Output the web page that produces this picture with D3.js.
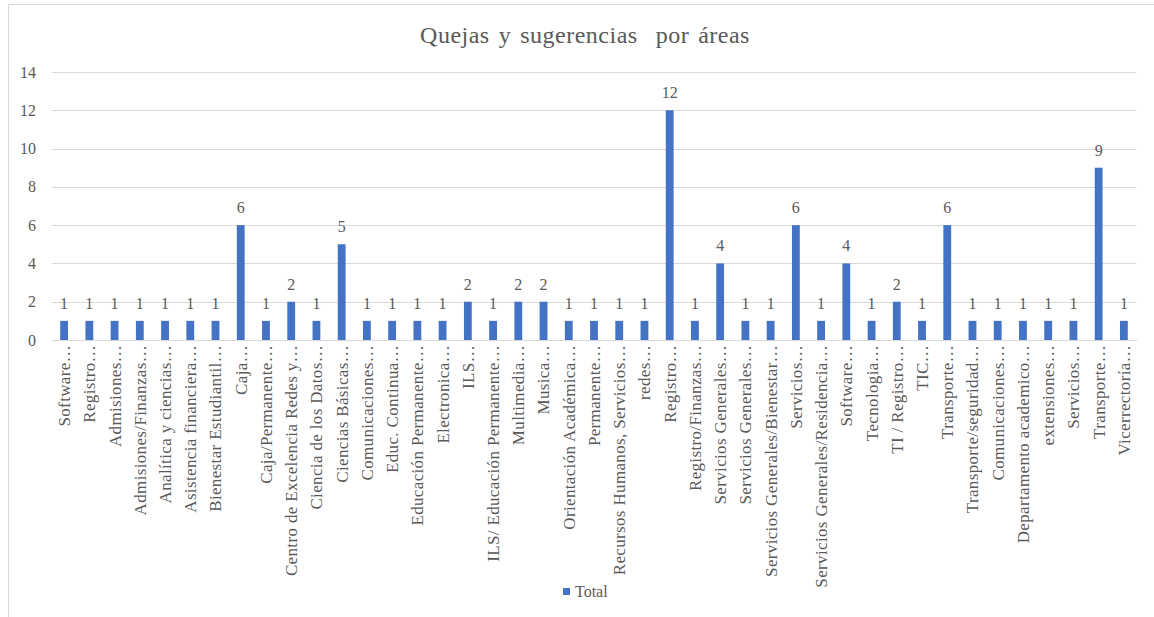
<!DOCTYPE html>
<html><head><meta charset="utf-8">
<script src="https://cdn.jsdelivr.net/npm/d3@7"></script>
<style>body{margin:0;background:#fff}svg{display:block}</style>
</head><body>
<script>
const title = "Quejas y sugerencias\u00a0 por áreas";
const seriesName = "Total";
const categories = ["Software…","Registro…","Admisiones…","Admisiones/Finanzas…","Analítica y ciencias…","Asistencia financiera…","Bienestar Estudiantil…","Caja…","Caja/Permanente…","Centro de Excelencia Redes y…","Ciencia de los Datos…","Ciencias Básicas…","Comunicaciones…","Educ. Continua…","Educación Permanente…","Electronica…","ILS…","ILS/ Educación Permanente…","Multimedia…","Musica…","Orientación Académica…","Permanente…","Recursos Humanos, Servicios…","redes…","Registro…","Registro/Finanzas…","Servicios Generales…","Servicios Generales…","Servicios Generales/Bienestar…","Servicios…","Servicios Generales/Residencia…","Software…","Tecnologia…","TI / Registro…","TIC…","Transporte…","Transporte/seguridad…","Comunicaciones…","Departamento academico…","extensiones…","Servicios…","Transporte…","Vicerrectoría…"];
const values = [1,1,1,1,1,1,1,6,1,2,1,5,1,1,1,1,2,1,2,2,1,1,1,1,12,1,4,1,1,6,1,4,1,2,1,6,1,1,1,1,1,9,1];
const yTicks = [0,2,4,6,8,10,12,14];

const FONT = "'Liberation Serif', 'Times New Roman', serif";
const W = 1154, H = 617;
const svg = d3.select("body").append("svg").attr("width", W).attr("height", H);
svg.append("rect").attr("x",8.5).attr("y",4.5).attr("width",1170).attr("height",640)
  .attr("fill","#fff").attr("stroke","#d9d9d9");

const x = d3.scaleBand().domain(d3.range(categories.length)).range([51.5, 1136.5]).paddingInner(0.69).paddingOuter(0.345);
const y = d3.scaleLinear().domain([0,14]).range([340, 72]);

svg.append("text").attr("x", 585).attr("y", 43).attr("text-anchor","middle")
  .attr("font-size", 24).attr("fill","#595959")
  .style("font-family", FONT).style("letter-spacing","0.5px").style("word-spacing","2.5px")
  .text(title);

// gridlines
svg.append("g").selectAll("line").data(yTicks).join("line")
  .attr("x1", 51.5).attr("x2", 1136.5)
  .attr("y1", d => Math.round(y(d))+0.5).attr("y2", d => Math.round(y(d))+0.5)
  .attr("stroke","#d9d9d9").attr("stroke-width",1);

const yAxis = d3.axisLeft(y).tickValues(yTicks).tickSize(0).tickPadding(0);
const ga = svg.append("g").attr("transform","translate(36,0)").call(yAxis);
ga.select(".domain").remove();
ga.selectAll("text").attr("font-size",16).attr("fill","#595959").style("font-family",FONT);

svg.append("g").selectAll("rect").data(values).join("rect")
  .attr("x", (d,i) => x(i)).attr("width", x.bandwidth())
  .attr("y", d => y(d)).attr("height", d => y(0) - y(d))
  .attr("fill","#4472c4");

svg.append("g").selectAll("text").data(values).join("text")
  .attr("x", (d,i) => x(i) + x.bandwidth()/2).attr("y", d => y(d) - 12)
  .attr("text-anchor","middle").attr("font-size",16).attr("fill","#595959")
  .style("font-family",FONT).text(d => d);

const xAxis = d3.axisBottom(x).tickSize(0).tickPadding(0).tickFormat(i => categories[i]);
const gx = svg.append("g").attr("transform","translate(0,340)").call(xAxis);
gx.select(".domain").attr("stroke","#d9d9d9");
gx.selectAll("text").attr("font-size",17).attr("fill","#595959").style("font-family",FONT)
  .style("letter-spacing","0.35px")
  .attr("text-anchor","end").attr("transform","rotate(-90)")
  .attr("x", -5).attr("y", 0).attr("dy","0.35em");

const lg = svg.append("g");
lg.append("rect").attr("x",563).attr("y",588).attr("width",7).attr("height",7).attr("fill","#4472c4");
lg.append("text").attr("x",575).attr("y",597).attr("font-size",16).attr("fill","#595959")
  .style("font-family",FONT).text(seriesName);
</script>
</body></html>
